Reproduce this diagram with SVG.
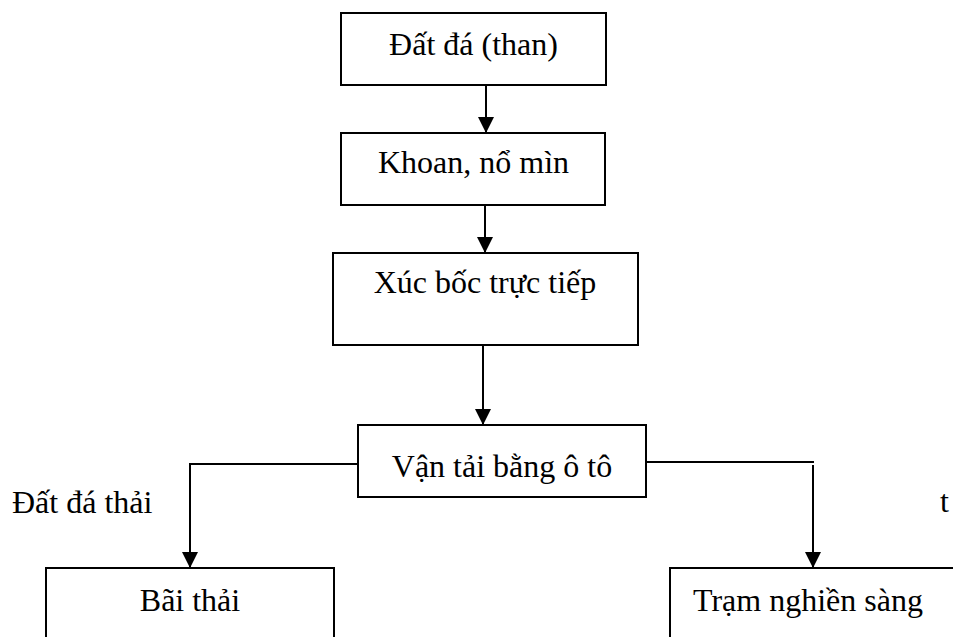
<svg xmlns="http://www.w3.org/2000/svg" width="953" height="637" viewBox="0 0 953 637">
<style>
.box{fill:#fff;stroke:#000;stroke-width:2}
.t{font-family:"Liberation Serif","Times New Roman",serif;font-size:32px;fill:#000}
.c{text-anchor:middle}
.ln{fill:none;stroke:#000;stroke-width:2}
</style>
<defs>
<marker id="ah" viewBox="0 0 16 16" refX="16" refY="8" markerWidth="16" markerHeight="16" markerUnits="userSpaceOnUse" orient="auto">
<path d="M0,0 L16,8 L0,16 z" fill="#000"/>
</marker>
</defs>
<rect width="953" height="637" fill="#fff"/>
<g id="connectors">
<line class="ln" x1="486" y1="85" x2="486" y2="133" marker-end="url(#ah)"/>
<line class="ln" x1="485" y1="205" x2="485" y2="253" marker-end="url(#ah)"/>
<line class="ln" x1="483" y1="345" x2="483" y2="425" marker-end="url(#ah)"/>
<polyline class="ln" points="358,464 190,464 190,568" marker-end="url(#ah)"/>
<line class="ln" x1="646" y1="462" x2="814" y2="462"/>
<line class="ln" x1="813" y1="465" x2="813" y2="568" marker-end="url(#ah)"/>
</g>
<g id="n1"><rect class="box" x="341" y="13" width="265" height="72"/><text class="t c" x="473.5" y="55">Đất đá (than)</text></g>
<g id="n2"><rect class="box" x="341" y="133" width="264" height="72"/><text class="t c" x="473.5" y="173">Khoan, nổ mìn</text></g>
<g id="n3"><rect class="box" x="333" y="253" width="305" height="92"/><text class="t c" x="485" y="293">Xúc bốc trực tiếp</text></g>
<g id="n4"><rect class="box" x="358" y="425" width="288" height="72"/><text class="t c" x="502" y="477">Vận tải bằng ô tô</text></g>
<g id="n5"><rect class="box" x="46" y="568" width="288" height="90"/><text class="t c" x="190" y="611">Bãi thải</text></g>
<g id="n6"><rect class="box" x="670" y="568" width="300" height="90"/><text class="t" x="693" y="611">Trạm nghiền sàng</text></g>
<g id="labels">
<text class="t" x="12" y="513">Đất đá thải</text>
<text class="t" x="940" y="512">t</text>
</g>
</svg>
